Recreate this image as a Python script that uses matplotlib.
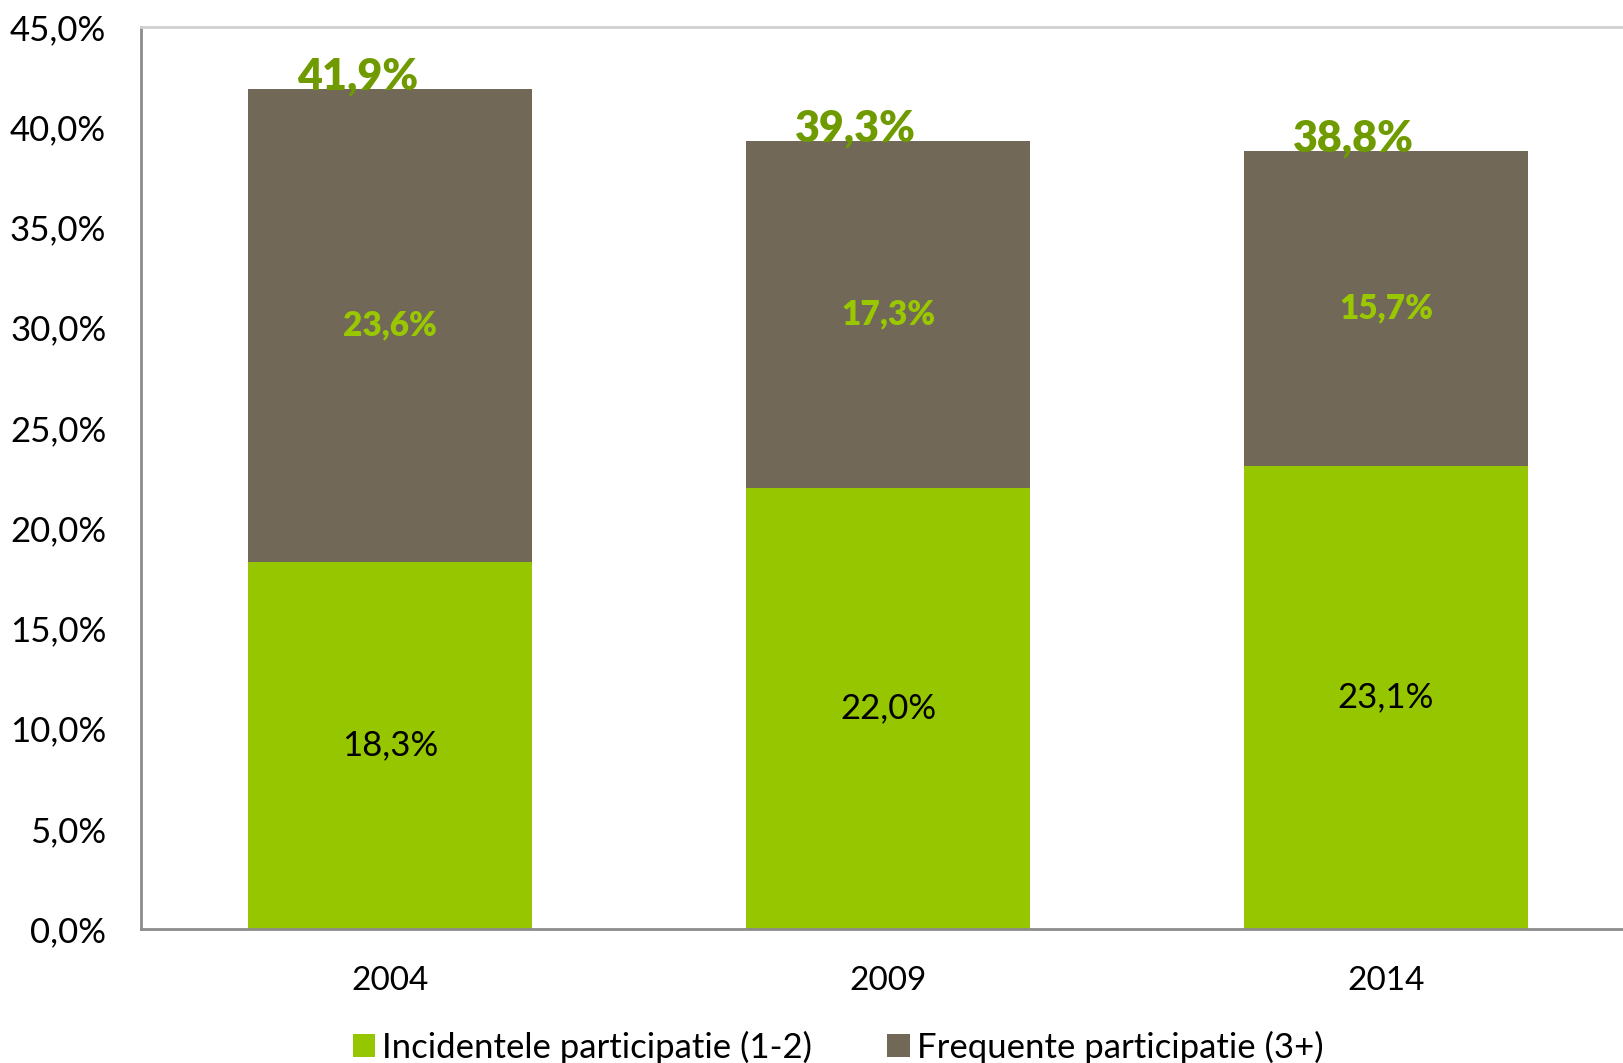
import matplotlib
matplotlib.use("Agg")
import matplotlib.pyplot as plt
from matplotlib.patches import Patch
import numpy as np

years = ["2004", "2009", "2014"]
incidenteel = [18.3, 22.0, 23.1]
frequent = [23.6, 17.3, 15.7]
totaal = [41.9, 39.3, 38.8]
series_names = ["Incidentele participatie (1-2)", "Frequente participatie (3+)"]
yticks = [0, 5, 10, 15, 20, 25, 30, 35, 40, 45]

GREEN = "#95C600"
BROWN = "#716858"
OLIVE = "#6F9A00"
LABEL_GREEN = "#99C800"

plt.rcParams['font.family'] = ['Lato', 'DejaVu Sans']

fig = plt.figure(figsize=(16.23, 10.63), dpi=100)
ax = fig.add_axes([141/1623, 1 - 929/1063, (1635 - 141)/1623, (929 - 27)/1063])

x = np.arange(len(years))
w = 0.572
ax.bar(x, incidenteel, width=w, color=GREEN, zorder=2)
ax.bar(x, frequent, width=w, bottom=incidenteel, color=BROWN, zorder=2)

for i in range(len(years)):
    ax.text(x[i], incidenteel[i] / 2, f"{incidenteel[i]:.1f}%".replace(".", ","),
            ha="center", va="center", fontsize=25, color="black")
    ax.text(x[i], incidenteel[i] + frequent[i] / 2, f"{frequent[i]:.1f}%".replace(".", ","),
            ha="center", va="center", fontsize=24, color=LABEL_GREEN, fontweight="heavy")
    ax.text(x[i] - 0.065, totaal[i], f"{totaal[i]:.1f}%".replace(".", ","),
            ha="center", va="baseline", fontsize=31, color=OLIVE, fontweight="heavy")

ax.set_xlim(-0.5, 2.5)
ax.set_ylim(0, 45)
ax.set_yticks(yticks)
ax.set_yticklabels([f"{v:.1f}%".replace(".", ",") for v in yticks], fontsize=25)
ax.set_xticks(x)
ax.set_xticklabels(years, fontsize=24)
ax.tick_params(axis="both", length=0)
ax.tick_params(axis="y", pad=25)
ax.tick_params(axis="x", pad=27)

for side in ["left", "bottom"]:
    ax.spines[side].set_color("#8c8c8c")
    ax.spines[side].set_linewidth(2)
ax.spines["top"].set_color("#d0d0d0")
ax.spines["top"].set_linewidth(2)
ax.spines["right"].set_visible(False)

handles = [Patch(facecolor=GREEN), Patch(facecolor=BROWN)]
fig.legend(handles, series_names, loc="center", bbox_to_anchor=(838/1623, 1 - 1047/1063),
           ncol=2, frameon=False, fontsize=25, handlelength=0.65, handleheight=0.65,
           handletextpad=0.2, columnspacing=2.15)

fig.savefig("out.png", dpi=100)
